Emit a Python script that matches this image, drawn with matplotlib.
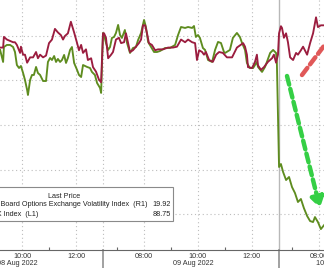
import matplotlib
matplotlib.use('Agg')
import matplotlib.pyplot as plt
from matplotlib.lines import Line2D
from matplotlib.patches import Rectangle

# x axis is trading time with the overnight gaps removed:
# hour 0 = 06:30 on 08 Aug, every session runs 06:30-13:00 (6.5 h)
vix_t = [2.69, 2.80, 2.83, 2.94, 3.17, 3.24, 3.31, 3.43, 3.46, 3.54, 3.61, 3.69, 3.80, 3.91,
         4.02, 4.09, 4.17, 4.28, 4.39, 4.50, 4.61, 4.72, 4.83, 4.94, 5.02, 5.09, 5.20, 5.31,
         5.43, 5.54, 5.61, 5.69, 5.76, 5.87, 5.94, 6.06, 6.13, 6.24, 6.35, 6.43,
         6.50, 6.54, 6.61, 6.69, 6.80, 6.87, 6.98, 7.09, 7.17, 7.28, 7.35, 7.43, 7.50, 7.61,
         7.72, 7.83, 7.91, 7.98, 8.06, 8.13, 8.20, 8.31, 8.43, 8.54, 8.72, 8.91, 9.09, 9.24,
         9.39, 9.54, 9.65, 9.80, 9.91, 9.98, 10.06, 10.17, 10.24, 10.31, 10.43, 10.57, 10.69,
         10.80, 10.94, 11.09, 11.28, 11.46, 11.69, 11.76, 11.83, 11.87, 12.02, 12.13, 12.20,
         12.24, 12.35, 12.46, 12.61, 12.76, 12.83, 12.91, 12.98,
         13.02, 13.09, 13.13, 13.20, 13.28, 13.35, 13.43, 13.54, 13.65, 13.72, 13.83, 13.91,
         14.06, 14.17, 14.28, 14.39, 14.46, 14.57, 14.69]
vix = [20.13, 20.13, 20.01, 20.04, 20.07, 20.07, 20.10, 20.19, 20.12, 20.21, 20.21, 20.30, 20.24, 20.24,
       20.18, 20.25, 20.21, 20.24, 20.22, 20.08, 20.04, 19.92, 19.96, 19.99, 20.04, 20.00, 19.97, 19.84,
       19.96, 20.08, 20.16, 20.10, 20.19, 20.15, 20.27, 20.25, 20.35, 20.40, 20.49, 20.52,
       19.97, 19.97, 20.02, 20.25, 20.21, 20.18, 20.04, 20.02, 20.08, 20.07, 19.97, 20.08, 20.18, 20.16,
       20.12, 20.08, 20.04, 19.88, 19.88, 19.97, 20.08, 20.10, 20.16, 20.15, 20.15, 20.13, 20.13, 20.12,
       20.04, 20.07, 20.04, 20.07, 20.08, 20.27, 20.16, 20.18, 20.21, 20.18, 20.27, 20.29, 20.21,
       20.18, 20.19, 20.24, 20.24, 20.13, 20.08, 20.12, 20.21, 20.35, 20.36, 20.29, 20.21,
       20.33, 20.38, 20.35, 20.29, 20.25, 20.21, 20.30, 20.21,
       19.97, 19.89, 19.91, 20.02, 19.97, 20.07, 20.24, 20.27, 20.19, 20.21, 20.16, 20.12,
       20.21, 20.08, 19.97, 19.79, 19.90, 19.88, 19.88]

vvix_t = [2.69, 2.80, 2.83, 2.94, 3.06, 3.17, 3.24, 3.31, 3.39, 3.46, 3.54, 3.61, 3.69, 3.72, 3.80,
          3.87, 3.94, 4.02, 4.09, 4.17, 4.28, 4.39, 4.46, 4.54, 4.61, 4.69, 4.76, 4.83, 4.91, 4.98,
          5.06, 5.13, 5.20, 5.28, 5.35, 5.43, 5.54, 5.61, 5.69, 5.76, 5.91, 6.02, 6.09, 6.20, 6.28,
          6.39, 6.43,
          6.50, 6.54, 6.61, 6.69, 6.76, 6.83, 6.91, 6.98, 7.06, 7.13, 7.20, 7.31, 7.39, 7.50, 7.61,
          7.72, 7.80, 7.91, 8.02, 8.09, 8.17, 8.28, 8.39, 8.50, 8.61, 8.80, 8.98, 9.17, 9.28, 9.39,
          9.54, 9.65, 9.80, 9.87, 9.94, 10.02, 10.09, 10.20, 10.28, 10.39, 10.54, 10.65, 10.76,
          10.87, 10.98, 11.02, 11.20, 11.31, 11.46, 11.57, 11.65, 11.76, 11.83, 11.94, 12.06,
          12.20, 12.24, 12.39, 12.50, 12.57, 12.69, 12.80, 12.91, 12.94,
          13.02, 13.09, 13.17, 13.28, 13.39, 13.50, 13.61, 13.72, 13.83, 13.94, 14.06, 14.17,
          14.28, 14.35, 14.46, 14.57, 14.69]
vvix = [108.43, 107.08, 108.76, 108.99, 108.99, 108.76, 108.20, 106.74, 106.40, 106.63, 105.84, 105.06,
        103.93, 103.37, 105.06, 105.62, 105.62, 106.52, 105.84, 105.62, 104.94, 104.94, 107.08, 107.53,
        107.30, 107.75, 107.08, 107.42, 107.08, 107.30, 107.87, 106.97, 107.53, 108.43, 108.76, 106.97,
        106.18, 105.62, 105.39, 106.74, 106.52, 106.40, 105.96, 105.62, 104.72, 104.16, 103.60,
        110.34, 110.11, 109.21, 108.43, 108.76, 109.78, 109.89, 110.34, 111.24, 110.11, 109.78, 110.67,
        109.21, 108.09, 108.65, 108.76, 109.55, 110.34, 111.80, 111.01, 109.33, 108.76, 108.20, 108.20,
        108.31, 108.65, 108.65, 108.99, 110.11, 111.01, 110.90, 111.01, 110.90, 111.12, 109.89, 110.11,
        109.78, 108.65, 108.43, 107.30, 107.08, 108.43, 109.33, 109.21, 108.20, 108.09, 108.43, 109.78,
        110.34, 109.89, 109.21, 108.43, 106.97, 106.40, 106.40, 107.08, 106.52, 105.96, 106.52, 107.08,
        108.09, 108.43, 108.09, 106.97,
        95.28, 95.62, 94.72, 93.82, 94.16, 93.03, 92.36, 91.35, 91.69, 90.67, 89.78, 89.21,
        89.10, 89.66, 89.10, 88.31, 88.76]

major_ticks = [(0, '10:00'), (0, '12:00'), (1, '08:00'), (1, '10:00'), (1, '12:00'), (2, '08:00')]
minor_ticks = [(0, '11:00'), (1, '07:00'), (1, '09:00'), (1, '11:00'), (2, '07:00')]
dates = ['08 Aug 2022', '09 Aug 2022', '10 Aug 2022']
date_pos = [3.33, 9.83, 15.13]

vix_name = 'Chicago Board Options Exchange Volatility Index  (R1)'
vvix_name = 'VVIX Index  (L1)'
vix_last = '19.92'
vvix_last = '88.75'


def sess(day, hhmm):
    h, m = hhmm.split(':')
    return day * 6.5 + int(h) + int(m) / 60 - 6.5


def px(x, y):
    return (x / 324, 1 - y / 268)


plt.rcParams['font.family'] = ['Liberation Sans', 'DejaVu Sans']
FS = 5.2

fig = plt.figure(figsize=(3.24, 2.68), dpi=100)
fig.patch.set_facecolor('white')
ax = fig.add_axes([0, 18 / 268, 1, 250 / 268])
ax2 = ax.twinx()

grid_kw = dict(color='#bdbdbd', lw=0.8, ls=(0, (1, 2.5)))

ax.plot(vvix_t, vvix, color='#5e8c1f', lw=1.35, zorder=3)
ax2.plot(vix_t, vix, color='#9b1d3f', lw=1.35, zorder=3)

ax.set_xlim(2.685, 14.685)
ax.set_ylim(85.96, 114.04)
ax2.set_ylim(22.4045, 19.5955)

ax.set_yticks([90, 95, 100, 105, 110])
for y in [90, 95, 100, 105, 110]:
    ax.axhline(y, **grid_kw, zorder=1)
ax.tick_params(axis='y', length=0, labelleft=False)
ax2.tick_params(axis='y', length=0, labelright=False)

maj = [sess(d, t) for d, t in major_ticks]
ax.set_xticks(maj)
ax.set_xticklabels([t for d, t in major_ticks])
ax.set_xticks([sess(d, t) for d, t in minor_ticks], minor=True)
ax.tick_params(axis='x', which='major', length=0, pad=1.8, labelsize=FS, labelcolor='#333333')
ax.tick_params(axis='x', which='minor', length=2.5, direction='in', color='#666666', width=0.8)
for x in maj:
    ax.axvline(x, **grid_kw, zorder=1)

# day breaks
ax.axvline(6.5, **grid_kw, zorder=1)
ax.axvline(13.0, color='#b8b8b8', lw=1.0, zorder=2)
for x in [6.5, 13.0]:
    ax.add_line(Line2D([x, x], [0, -0.08], transform=ax.get_xaxis_transform(),
                       color='#9a9a9a', lw=1.3, clip_on=False))

for s in ['top', 'left', 'right']:
    ax.spines[s].set_visible(False)
    ax2.spines[s].set_visible(False)
ax2.spines['bottom'].set_visible(False)
ax.spines['bottom'].set_color('#666666')
ax.spines['bottom'].set_linewidth(0.8)

for lab, x in zip(dates, date_pos):
    ax.text(x, -0.055, lab, transform=ax.get_xaxis_transform(), ha='center', va='center',
            fontsize=FS, color='#333333')

# legend box
fig.add_artist(Rectangle(px(-2, 221), 175 / 324, 34 / 268, transform=fig.transFigure,
                         facecolor='white', edgecolor='#8a8a8a', lw=0.8, zorder=5))
tk = dict(fontsize=FS, color='#222222', va='center', zorder=6)
fig.text(*px(64, 196), 'Last Price', ha='center', **tk)
fig.text(*px(148, 205), vix_name, ha='right', **tk)
fig.text(*px(171, 205), vix_last, ha='right', **tk)
fig.text(*px(38, 214), vvix_name, ha='right', **tk)
fig.text(*px(171, 214), vvix_last, ha='right', **tk)

# hand-drawn style arrows
arrow_style = '-|>,head_length=0.6,head_width=0.38'
ax2.annotate('', xy=px(320, 208), xytext=px(287, 76), xycoords='figure fraction',
             arrowprops=dict(arrowstyle=arrow_style, lw=3.2, ls=(0, (2, 1)),
                             color='#35cf45', shrinkA=0, shrinkB=0))
ax2.annotate('', xy=px(342, 22), xytext=px(302, 75), xycoords='figure fraction',
             arrowprops=dict(arrowstyle=arrow_style, lw=3.2, ls=(0, (2, 1)),
                             color='#e05858', shrinkA=0, shrinkB=0))

fig.savefig('out.png', dpi=100)
